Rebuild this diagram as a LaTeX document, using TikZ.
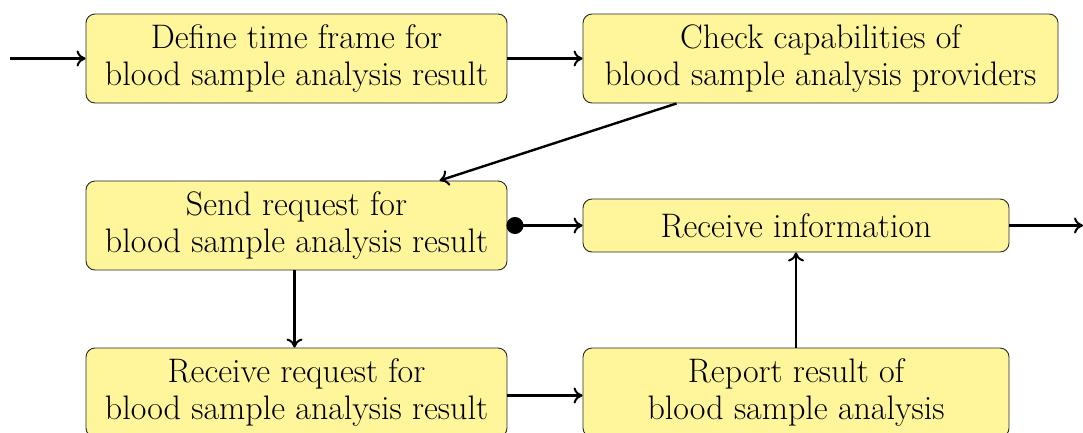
\documentclass[tikz,border=0pt]{standalone}
\usepackage{fontspec}
\setmainfont{Latin Modern Roman}
\usetikzlibrary{arrows.meta,calc}
\definecolor{boxfill}{RGB}{255,245,155}
\definecolor{boxline}{RGB}{40,40,40}
\tikzset{
  stepbox/.style={draw=boxline, line width=0.9pt, fill=boxfill, rounded corners=9pt,
    align=center, inner sep=0pt, font=\fontsize{34}{37}\selectfont},
  flow/.style={line width=2.4pt, -{To[length=9pt,width=16pt,line width=2pt]}},
}
\begin{document}
\begin{tikzpicture}[x=1pt,y=-1pt]
  \useasboundingbox (0,0) rectangle (1083,432);
  % activity boxes
  \node[stepbox, minimum width=421pt, minimum height=89pt] (define) at (296.5,58.5)
    {Define time frame for\\blood sample analysis result};
  \node[stepbox, minimum width=475pt, minimum height=89pt] (check) at (820.5,58.5)
    {Check capabilities of\\blood sample analysis providers};
  \node[stepbox, minimum width=421pt, minimum height=89pt] (send) at (296.5,225.5)
    {Send request for\\blood sample analysis result};
  \node[stepbox, minimum width=426pt, minimum height=53pt] (info) at (796,225.5)
    {Receive information};
  \node[stepbox, minimum width=421pt, minimum height=89pt] (recv) at (296.5,392.5)
    {Receive request for\\blood sample analysis result};
  \node[stepbox, minimum width=426pt, minimum height=89pt] (report) at (796,392.5)
    {Report result of\\blood sample analysis};
  % loose ends
  \coordinate (start) at (10,58.5);
  \coordinate (finish) at (1083,225.5);
  % connectors
  \draw[flow] (start) -- (define.west);
  \draw[flow] (define.east) -- (check.west);
  \draw[flow] ($(check.south west)+(94,0)$) -- ($(send.north west)+(354,0)$);
  \draw[line width=2.4pt, {Circle[length=17pt]}-{To[length=9pt,width=16pt,line width=2pt]}]
    ($(send.east)+(-1,0)$) -- (info.west);
  \draw[flow] (info.east) -- (finish);
  \draw[flow] ($(send.south)+(-2,0)$) -- ($(recv.north)+(-2,0)$);
  \draw[flow] ($(recv.east)+(0,3)$) -- ($(report.west)+(0,3)$);
  \draw[flow] (report.north) -- (info.south);
\end{tikzpicture}
\end{document}
